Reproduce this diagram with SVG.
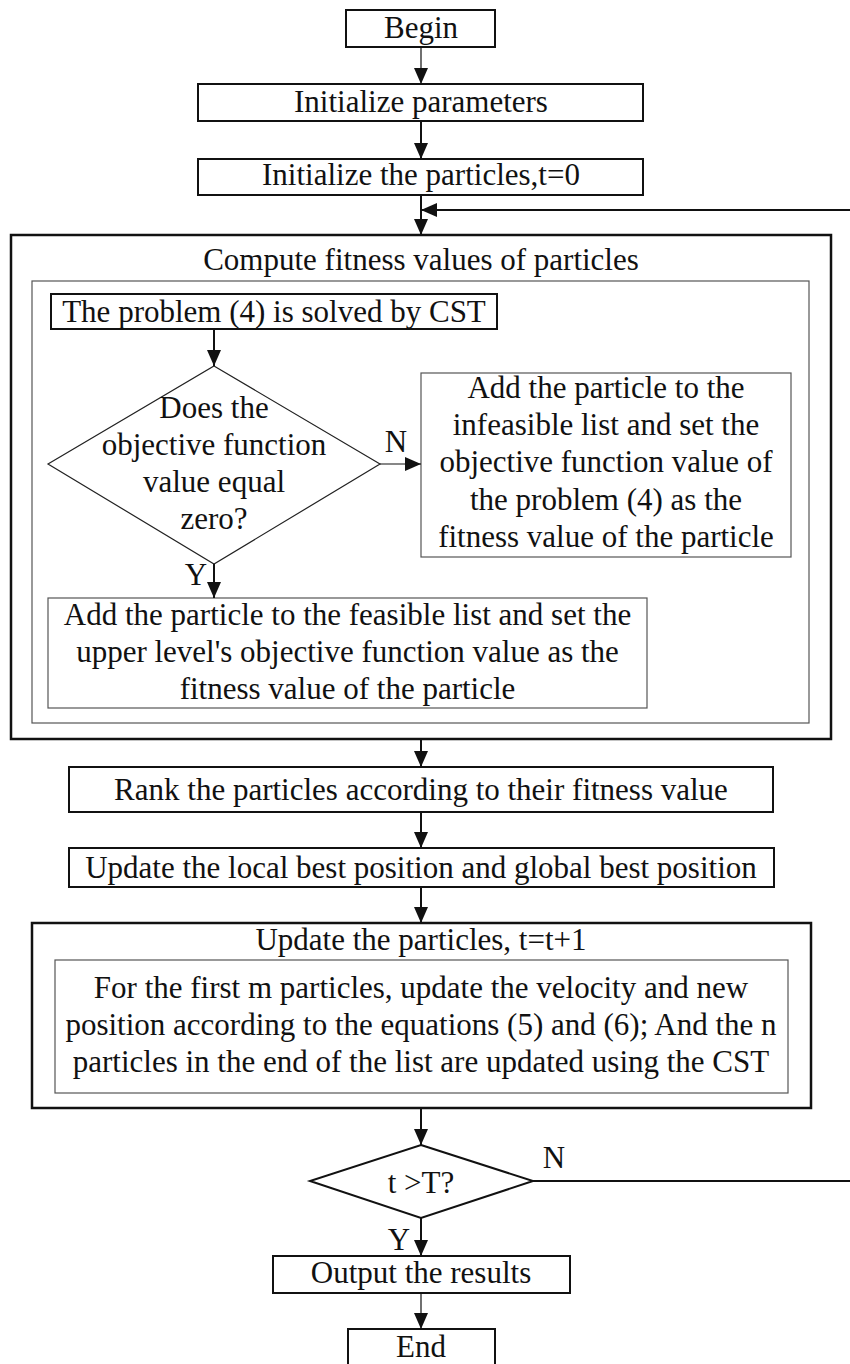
<svg xmlns="http://www.w3.org/2000/svg" width="850" height="1364" viewBox="0 0 850 1364">
  <style>
    text { font-family: "Liberation Serif", "Times New Roman", serif; font-size: 31px; fill: #111; text-anchor: middle; }
    .box { fill: #fff; stroke: #111; stroke-width: 2; }
    .thin { fill: #fff; stroke: #555; stroke-width: 1.2; }
    .frame { fill: #fff; stroke: #111; stroke-width: 2.5; }
    .line { fill: none; stroke: #111; stroke-width: 2; }
    .line1 { fill: none; stroke: #111; stroke-width: 1.2; }
  </style>
  <defs>
    <marker id="arrow" markerUnits="userSpaceOnUse" markerWidth="16" markerHeight="14" refX="16" refY="7" orient="auto">
      <path d="M0,0 L16,7 L0,14 z" fill="#111"/>
    </marker>
  </defs>

  <!-- container frames first so nested nodes draw on top -->
  <g id="compute-fitness">
    <rect class="frame" x="11" y="235" width="820" height="504"/>
    <text x="421" y="270">Compute fitness values of particles</text>
    <rect class="thin" x="32" y="281" width="777" height="442"/>
  </g>

  <g id="update-particles">
    <rect class="frame" x="32" y="923" width="779" height="185"/>
    <text x="421" y="950">Update the particles, t=t+1</text>
    <rect class="thin" x="55" y="960" width="733" height="133"/>
    <text x="421" y="998">For the first m particles, update the velocity and new</text>
    <text x="421" y="1035">position according to the equations (5) and (6); And the n</text>
    <text x="421" y="1072">particles in the end of the list are updated using the CST</text>
  </g>

  <g id="begin">
    <rect class="box" x="346" y="10" width="149" height="37"/>
    <text x="421" y="38">Begin</text>
  </g>

  <g id="init-params">
    <rect class="box" x="198" y="84" width="445" height="37"/>
    <text x="421" y="112">Initialize parameters</text>
  </g>

  <g id="init-particles">
    <rect class="box" x="198" y="159" width="445" height="36"/>
    <text x="421" y="185">Initialize the particles,t=0</text>
  </g>

  <g id="solve-cst">
    <rect class="box" x="51" y="294" width="446" height="35"/>
    <text x="274" y="322">The problem (4) is solved by CST</text>
  </g>

  <g id="zero-check">
    <polygon class="thin" points="214,366 380,464 214,564 48,464" style="stroke:#222"/>
    <text x="214" y="418">Does the</text>
    <text x="214" y="455">objective function</text>
    <text x="214" y="492">value equal</text>
    <text x="214" y="529">zero?</text>
  </g>

  <g id="infeasible">
    <rect class="thin" x="421" y="373" width="370" height="184"/>
    <text x="606" y="398">Add the particle to the</text>
    <text x="606" y="435">infeasible list and set the</text>
    <text x="606" y="472">objective function value of</text>
    <text x="606" y="510">the problem (4) as the</text>
    <text x="606" y="547">fitness value of the particle</text>
  </g>

  <g id="feasible">
    <rect class="thin" x="48" y="598" width="599" height="110"/>
    <text x="347.5" y="625">Add the particle to the feasible list and set the</text>
    <text x="347.5" y="662">upper level's objective function value as the</text>
    <text x="347.5" y="699">fitness value of the particle</text>
  </g>

  <g id="rank">
    <rect class="box" x="69" y="767" width="704" height="45"/>
    <text x="421" y="800">Rank the particles according to their fitness value</text>
  </g>

  <g id="update-best">
    <rect class="box" x="69" y="848" width="705" height="39"/>
    <text x="421" y="878">Update the local best position and global best position</text>
  </g>

  <g id="stop-check">
    <polygon class="box" points="421,1145 533,1181 421,1218 310,1181"/>
    <text x="421" y="1193">t &gt;T?</text>
  </g>

  <g id="output">
    <rect class="box" x="273" y="1256" width="297" height="37"/>
    <text x="421" y="1283">Output the results</text>
  </g>

  <g id="end">
    <rect class="box" x="348" y="1329" width="147" height="40"/>
    <text x="421" y="1357">End</text>
  </g>

  <g id="connectors">
    <line class="line1" x1="421" y1="47" x2="421" y2="84" marker-end="url(#arrow)"/>
    <line class="line" x1="421" y1="121" x2="421" y2="159" marker-end="url(#arrow)"/>
    <line class="line" x1="421" y1="195" x2="421" y2="235" marker-end="url(#arrow)"/>
    <line class="line" x1="850" y1="210" x2="421" y2="210" marker-end="url(#arrow)"/>
    <line class="line" x1="214" y1="329" x2="214" y2="366" marker-end="url(#arrow)"/>
    <line class="line1" x1="380" y1="464" x2="421" y2="464" marker-end="url(#arrow)"/>
    <line class="line" x1="214" y1="564" x2="214" y2="598" marker-end="url(#arrow)"/>
    <line class="line" x1="421" y1="739" x2="421" y2="767" marker-end="url(#arrow)"/>
    <line class="line" x1="421" y1="812" x2="421" y2="848" marker-end="url(#arrow)"/>
    <line class="line" x1="421" y1="887" x2="421" y2="923" marker-end="url(#arrow)"/>
    <line class="line" x1="421" y1="1108" x2="421" y2="1145" marker-end="url(#arrow)"/>
    <line class="line" x1="533" y1="1181" x2="850" y2="1181"/>
    <line class="line" x1="421" y1="1218" x2="421" y2="1256" marker-end="url(#arrow)"/>
    <line class="line1" x1="421" y1="1293" x2="421" y2="1329" marker-end="url(#arrow)"/>
    <text x="396" y="452">N</text>
    <text x="196" y="585">Y</text>
    <text x="554" y="1168">N</text>
    <text x="399" y="1250">Y</text>
  </g>
</svg>
